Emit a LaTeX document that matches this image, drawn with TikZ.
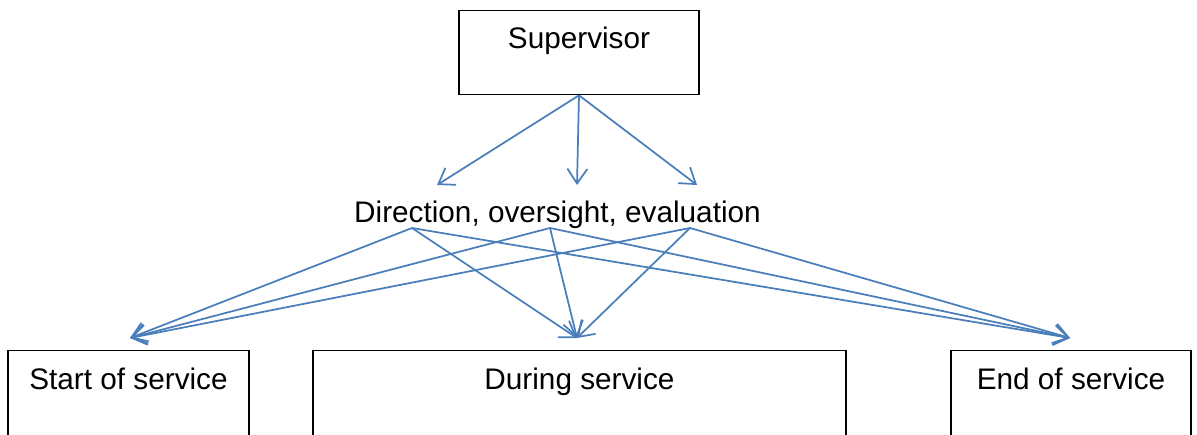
\documentclass[tikz,border=0pt]{standalone}
\usepackage{fontspec}
\setmainfont{Liberation Sans}
\usetikzlibrary{arrows.meta}
\definecolor{arrowblue}{HTML}{4A7EBB}

\tikzset{
	box/.style={draw=black, line width=1pt, inner sep=0pt, anchor=north, text height=28.9pt, text depth=60pt},
	flow/.style={draw=arrowblue, line width=1.3pt, -{Straight Barb[length=11pt,width=15pt]}}
}

\begin{document}
\begin{tikzpicture}[x=0.75pt, y=-0.75pt, font=\fontsize{22.3pt}{26pt}\selectfont]
			%%%%% FRAME %%%%%
			\useasboundingbox (0, 0) rectangle (1197, 435);
			\clip (0, 0) rectangle (1197, 435);
			
			%%%%% BOXES %%%%%
			\node[box, minimum width=180pt, text height=28.1pt, text depth=34.9pt] (sup) at (579, 10) {Supervisor};
			\node[anchor=base, inner sep=0pt] (dir) at (557.5, 222) {Direction, oversight, evaluation};
			
			\node[box, minimum width=180.75pt] (start) at (128.5, 350) {Start of service};
			\node[box, minimum width=399.75pt] (during) at (579.5, 350) {During service};
			\node[box, minimum width=180pt] (end) at (1071, 350) {End of service};
			
			%%%%% ENDS %%%%%
			\coordinate (t1) at (437, 185);
			\coordinate (t2) at (577, 185);
			\coordinate (t3) at (697, 185);
			
			\coordinate (d1) at (412, 228);
			\coordinate (d2) at (550, 228);
			\coordinate (d3) at (690, 228);
			
			\coordinate (in1) at (130, 338);
			\coordinate (in2) at (577, 338);
			\coordinate (in3) at (1070, 338);
			
			%%%%% ARROWS %%%%%
			\draw[flow] (sup.south) -- (t1);
			\draw[flow] (sup.south) -- (t2);
			\draw[flow] (sup.south) -- (t3);
			
			\draw[flow] (d1) -- (in1);
			\draw[flow] (d1) -- (in2);
			\draw[flow] (d1) -- (in3);
			
			\draw[flow] (d2) -- (in1);
			\draw[flow] (d2) -- (in2);
			\draw[flow] (d2) -- (in3);
			
			\draw[flow] (d3) -- (in1);
			\draw[flow] (d3) -- (in2);
			\draw[flow] (d3) -- (in3);
			
		\end{tikzpicture}
\end{document}
